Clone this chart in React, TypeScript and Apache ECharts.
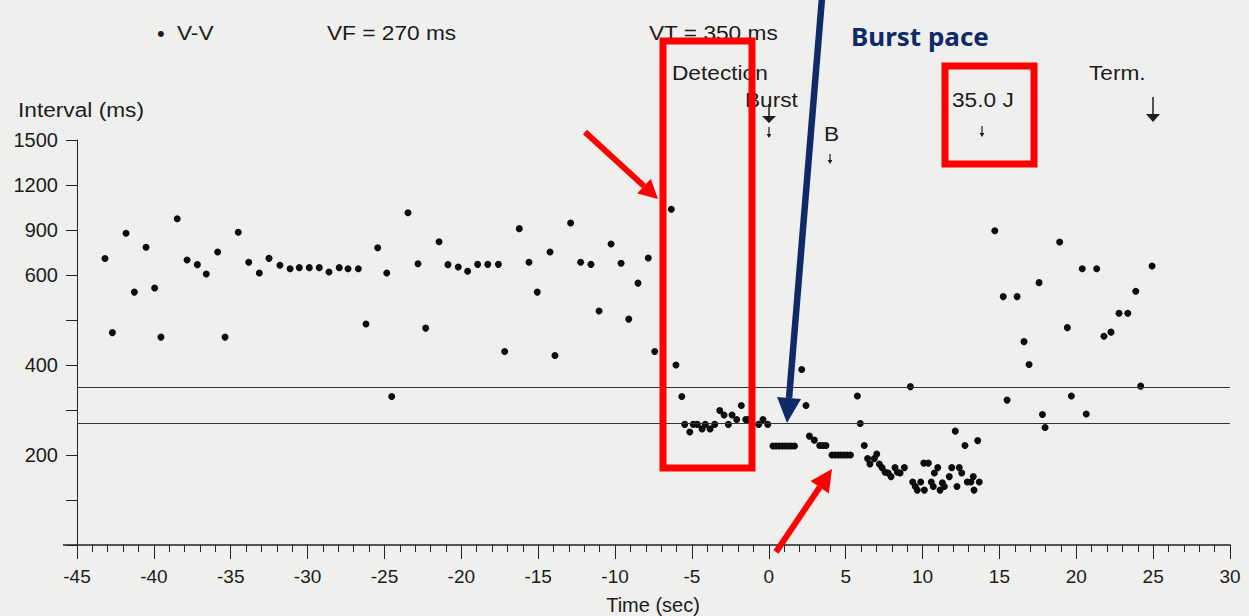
import React, { useEffect, useRef } from "react";
import * as echarts from "echarts";

// Time (sec) and V-V interval (ms) of each sensed beat
const vvTimes = [
  -43.18, -42.7, -41.81, -41.27, -40.51, -39.95, -39.54, -38.48, -37.84, -37.17,
  -36.59, -35.85, -35.37, -34.51, -33.83, -33.14, -32.51, -31.8, -31.14, -30.54,
  -29.89, -29.24, -28.61, -27.94, -27.37, -26.7, -26.2, -25.44, -24.85, -24.53,
  -23.47, -22.82, -22.32, -21.45, -20.87, -20.2, -19.59, -18.94, -18.28, -17.59,
  -17.18, -16.23, -15.6, -15.06, -14.23, -13.91, -12.89, -12.24, -11.57, -11.04,
  -10.26, -9.61, -9.11, -8.51, -7.84, -7.42, -6.34, -6.04, -5.66, -5.47,
  -5.14, -4.91, -4.65, -4.34, -4.13, -3.82, -3.52, -3.19, -2.91, -2.63,
  -2.39, -2.09, -1.79, -1.5, -1.33, -0.66, -0.38, -0.07,
  2.14, 2.42, 2.64, 2.96,
  5.76, 5.95, 6.21, 6.43, 6.58, 6.86, 7.02, 7.19, 7.36, 7.56,
  7.77, 7.95, 8.21, 8.36, 8.54, 8.82, 9.21, 9.36, 9.53, 9.66,
  9.88, 10.08, 10.12, 10.38, 10.57, 10.7, 10.77, 10.99, 11.14, 11.29,
  11.42, 11.74, 11.9, 12.13, 12.24, 12.39, 12.55, 12.76, 12.91, 13.15,
  13.3, 13.35, 13.59, 13.69, 14.7, 15.25, 15.5, 16.15, 16.6, 16.93,
  17.58, 17.8, 17.97, 18.92, 19.42, 19.68, 20.39, 20.65, 21.33, 21.8,
  22.26, 22.78, 23.35, 23.87, 24.19, 24.93,
];
const vvIntervals = [
  710, 472, 878, 562, 785, 571, 462, 975, 700, 669,
  607, 753, 462, 885, 685, 613, 711, 665, 642, 649,
  649, 649, 620, 649, 642, 642, 491, 782, 613, 330,
  1015, 675, 482, 822, 669, 653, 625, 671, 671, 671,
  430, 909, 685, 562, 753, 421, 947, 685, 671, 520,
  807, 678, 502, 582, 713, 430, 1038, 400, 330, 268,
  251, 268, 268, 258, 268, 258, 268, 299, 289, 268,
  289, 279, 310, 279, 279, 268, 279, 268,
  390, 310, 242, 233,
  331, 270, 221, 196, 190, 196, 202, 190, 186, 181,
  180, 176, 186, 181, 180, 186, 352, 170, 165, 161,
  170, 191, 161, 191, 170, 165, 180, 186, 161, 169,
  165, 176, 186, 253, 165, 186, 180, 221, 170, 170,
  176, 161, 232, 170, 895, 552, 322, 552, 452, 401,
  583, 290, 261, 820, 483, 331, 642, 291, 642, 464,
  473, 515, 515, 564, 353, 660,
];

// Paced beats (burst pacing)
const burstTimes = [
  0.27, 0.47, 0.67, 0.87, 1.07, 1.27, 1.47, 1.67,
  3.31, 3.52, 3.72,
  4.11, 4.31, 4.51, 4.71, 4.91, 5.11, 5.31,
];
const burstIntervals = [
  220, 220, 220, 220, 220, 220, 220, 220,
  221, 221, 221,
  200, 200, 200, 200, 200, 200, 200,
];

// Zone thresholds
const vfThreshold = 270;
const vtThreshold = 350;

// Y-axis: device scale ticks (ms), piecewise evenly spaced
const yTickValues = [100, 150, 200, 300, 400, 500, 600, 900, 1200, 1500];
const yTickLabels = ["", "", "200", "", "400", "", "600", "900", "1200", "1500"];

// X-axis
const xMin = -45;
const xMax = 30;

function toScale(v: number): number {
  const b = yTickValues;
  if (v <= b[0]) return 0;
  for (let i = 0; i < b.length - 1; i++) {
    if (v <= b[i + 1]) return i + (v - b[i]) / (b[i + 1] - b[i]);
  }
  return b.length - 1;
}

const FONT = "Liberation Sans, Arial, sans-serif";
const TXT = "#1c1c1c";

function txt(text: string, x: number, y: number, size = 21, extra: any = {}, sx = 1.08) {
  return {
    type: "text",
    x,
    y,
    scaleX: sx,
    z: 100,
    style: {
      text,
      font: `${size}px ${FONT}`,
      fill: TXT,
      align: "left",
      verticalAlign: "middle",
      textAlign: "left",
      textVerticalAlign: "middle",
      ...extra,
    },
  };
}

function arrowHead(tipX: number, tipY: number, fromX: number, fromY: number, len: number, half: number, color: string) {
  const dx = tipX - fromX;
  const dy = tipY - fromY;
  const d = Math.sqrt(dx * dx + dy * dy);
  const ux = dx / d;
  const uy = dy / d;
  const bx = tipX - ux * len;
  const by = tipY - uy * len;
  const px = -uy;
  const py = ux;
  return {
    base: [bx, by],
    el: {
      type: "polygon",
      z: 110,
      shape: { points: [[tipX, tipY], [bx + px * half, by + py * half], [bx - px * half, by - py * half]] },
      style: { fill: color },
    },
  };
}

function arrow(x1: number, y1: number, x2: number, y2: number, w: number, len: number, half: number, color: string) {
  const h = arrowHead(x2, y2, x1, y1, len, half, color);
  return [
    {
      type: "line",
      z: 110,
      shape: { x1, y1, x2: h.base[0], y2: h.base[1] },
      style: { stroke: color, lineWidth: w },
    },
    h.el,
  ];
}

function smallDown(x: number, y1: number, y2: number, head: number, w = 1.2) {
  return [
    { type: "line", z: 100, shape: { x1: x, y1, x2: x, y2: y2 - head + 1 }, style: { stroke: TXT, lineWidth: w } },
    {
      type: "polygon",
      z: 100,
      shape: { points: [[x - head * 0.6, y2 - head], [x + head * 0.6, y2 - head], [x, y2]] },
      style: { fill: TXT },
    },
  ];
}

export default function App() {
  const ref = useRef<HTMLDivElement>(null);

  useEffect(() => {
    if (!ref.current) return;
    const chart = echarts.init(ref.current, null, { renderer: "svg" });

    const vvData = vvTimes.map((t, i) => [t, toScale(vvIntervals[i])]);
    const burstData = burstTimes.map((t, i) => [t, toScale(burstIntervals[i])]);

    const RED = "#ff0000";
    const NAVY = "#0f2a66";

    const graphic: any[] = [
      txt("•", 157, 33, 22, {}, 1),
      txt("V-V", 177, 33),
      txt("VF = 270 ms", 327, 33),
      txt("VT = 350 ms", 649, 33),
      txt("Burst pace", 851, 36, 25, { font: `bold 25px "Noto Sans", "Open Sans", sans-serif`, fill: NAVY }, 1.04),
      txt("Detection", 672, 73),
      txt("Burst", 745, 100),
      txt("B", 824, 134),
      txt("35.0 J", 952, 100),
      txt("Term.", 1089, 73),
      txt("Interval (ms)", 18, 110),
      txt("Time (sec)", 653, 605, 20, { align: "center", textAlign: "center" }, 1),
      // burst marker arrows
      ...smallDown(769, 104, 123, 7, 1.5),
      { type: "polygon", z: 100, shape: { points: [[762, 116], [776, 116], [769, 123]] }, style: { fill: TXT } },
      ...smallDown(769, 127, 138, 4),
      ...smallDown(830, 154, 164, 4),
      ...smallDown(982, 126, 137, 4),
      // termination arrow
      { type: "line", z: 100, shape: { x1: 1153, y1: 97, x2: 1153, y2: 116 }, style: { stroke: TXT, lineWidth: 1.5 } },
      { type: "polygon", z: 100, shape: { points: [[1146, 114], [1160, 114], [1153, 122]] }, style: { fill: TXT } },
      // x-axis line extension to the left of the y axis
      { type: "line", z: 50, shape: { x1: 63, y1: 545, x2: 77, y2: 545 }, style: { stroke: "#222", lineWidth: 1.5 } },
      // red highlight boxes
      { type: "rect", z: 105, shape: { x: 663, y: 41, width: 89, height: 427 }, style: { fill: "transparent", stroke: RED, lineWidth: 7 } },
      { type: "rect", z: 105, shape: { x: 945, y: 66, width: 89, height: 98 }, style: { fill: "transparent", stroke: RED, lineWidth: 7 } },
      // red arrows
      ...arrow(585, 132, 658, 199, 6, 19, 10, RED),
      ...arrow(776, 552, 832, 469, 6, 22, 11, RED),
      // navy burst-pace arrow
      ...arrow(822, -2, 787, 423, 6.5, 25, 12, NAVY),
    ];

    chart.setOption({
      animation: false,
      backgroundColor: "#efefed",
      textStyle: { fontFamily: FONT },
      grid: { left: 77, right: 19, top: 140, bottom: 71, containLabel: false },
      xAxis: {
        type: "value",
        min: xMin,
        max: xMax,
        interval: 5,
        axisLine: { show: true, onZero: false, lineStyle: { color: "#222", width: 1.5 } },
        axisTick: { show: true, length: 14, lineStyle: { color: "#222", width: 1 } },
        minorTick: { show: true, splitNumber: 5, length: 7, lineStyle: { color: "#222", width: 1 } },
        splitLine: { show: false },
        axisLabel: { color: TXT, fontSize: 19, margin: 22, fontFamily: FONT },
      },
      yAxis: {
        type: "value",
        min: 0,
        max: yTickValues.length - 1,
        interval: 1,
        axisLine: { show: true, onZero: false, lineStyle: { color: "#222", width: 1 } },
        axisTick: { show: true, length: 11, lineStyle: { color: "#222", width: 1 } },
        splitLine: { show: false },
        axisLabel: {
          color: TXT,
          fontSize: 20,
          margin: 19,
          fontFamily: FONT,
          formatter: (v: number) => yTickLabels[Math.round(v)] ?? "",
        },
      },
      series: [
        {
          name: "V-V",
          type: "scatter",
          symbol: "circle",
          symbolSize: 7,
          itemStyle: { color: "#0d0d0d", opacity: 1 },
          data: vvData,
          markLine: {
            silent: true,
            symbol: "none",
            label: { show: false },
            lineStyle: { color: "#333", width: 1, type: "solid" },
            data: [{ yAxis: toScale(vtThreshold) }, { yAxis: toScale(vfThreshold) }],
          },
        },
        {
          name: "Burst",
          type: "scatter",
          symbol: "circle",
          symbolSize: 7,
          itemStyle: { color: "#0d0d0d", opacity: 1 },
          data: burstData,
        },
      ],
      graphic,
    });

    return () => chart.dispose();
  }, []);

  return (
    <div
      ref={ref}
      style={{ position: "fixed", left: 0, top: 0, width: 1249, height: 616 }}
    />
  );
}
